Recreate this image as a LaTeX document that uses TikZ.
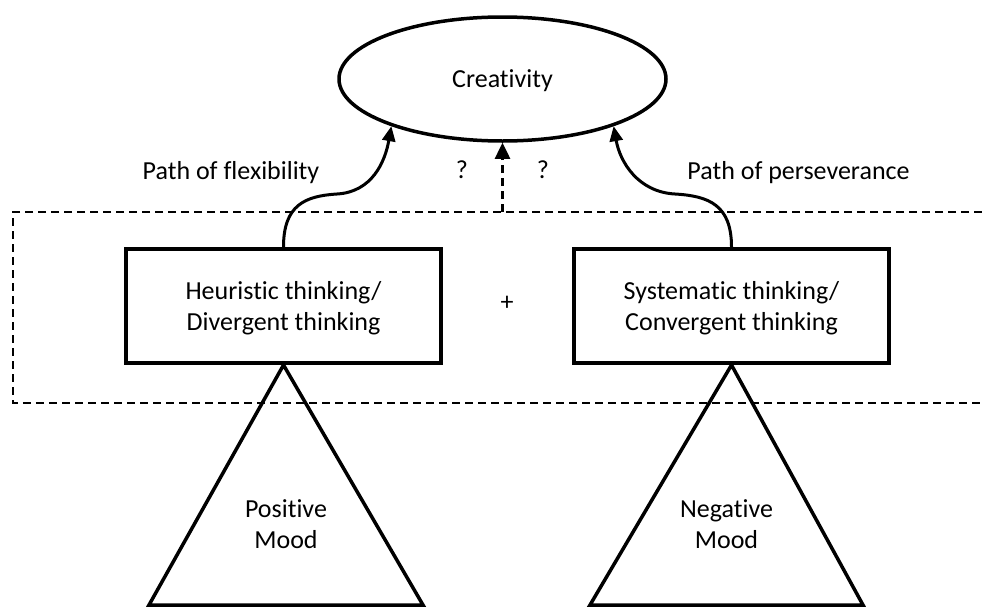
\documentclass[tikz,border=0pt]{standalone}
\usepackage{fontspec}
\setmainfont{Carlito}[Ligatures={NoCommon},RawFeature={-liga}]
\usetikzlibrary{arrows.meta,shapes.geometric}
\begin{document}
\begin{tikzpicture}[x=1pt,y=-1pt,
  every node/.style={font=\fontsize{26}{31}\selectfont, align=center, inner sep=0pt},
  ellipsenode/.style={draw, ellipse, line width=3.5pt, minimum width=327pt, minimum height=124pt, text depth=0pt},
  thinkbox/.style={draw, rectangle, line width=4pt, minimum width=315pt, minimum height=114pt, text depth=0pt},
  moodtri/.style={draw, line width=3.5pt, line join=miter},
  pathlink/.style={line width=3pt, -{Triangle[length=15pt,width=13pt]}},
  frame/.style={line width=2pt, dash pattern=on 8pt off 5pt},
  unknownlink/.style={line width=2.5pt, dash pattern=on 8pt off 5pt, -{Triangle[length=16pt,width=15pt]}},
  lbl/.style={anchor=base}
]
\useasboundingbox (0,0) rectangle (982,608);

% group frame (right side runs off the picture)
\coordinate (fTR) at (982,212);
\coordinate (fTL) at (13,212);
\coordinate (fBL) at (13,403);
\coordinate (fBR) at (982,403);
\coordinate (fMid) at (502.5,212);
\draw[frame] (fTR) -- (fTL) -- (fBL) -- (fBR);

% main nodes
\node[ellipsenode] (creat) at (502.5,79) {Creativity};
\node[thinkbox] (heur) at (283.5,306) {Heuristic thinking/\\Divergent thinking};
\node[thinkbox] (syst) at (731.5,306) {Systematic thinking/\\Convergent thinking};
\node (plus) at (507,303) {+};

% mood triangles
\coordinate (pL) at (149,605);
\coordinate (pR) at (423,605);
\coordinate (nL) at (590,605);
\coordinate (nR) at (863,605);
\draw[moodtri] (heur.south) -- (pL) -- (pR) -- cycle;
\draw[moodtri] (syst.south) -- (nL) -- (nR) -- cycle;
\node[text depth=0pt] (pos) at (286,524) {Positive\\Mood};
\node[text depth=0pt] (neg) at (726.5,524) {Negative\\Mood};

% paths to creativity
\draw[pathlink] (heur.north) .. controls (283.5,205) and (305,196) .. (337,194)
  .. controls (372,192) and (385,162) .. (creat.203);
\draw[pathlink] (syst.north) .. controls (731.5,205) and (709,196) .. (675,194)
  .. controls (638,192) and (620,162) .. (creat.-23);
\draw[unknownlink] (fMid) -- (creat.south);

% labels
\node[lbl] (flex) at (231,179) {Path of flexibility};
\node[lbl] (pers) at (798.5,179) {Path of perseverance};
\node[lbl] (q1) at (462,178) {?};
\node[lbl] (q2) at (543,178) {?};
\end{tikzpicture}
\end{document}
